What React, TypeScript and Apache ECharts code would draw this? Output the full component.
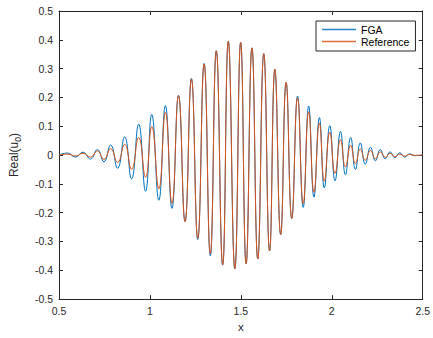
import React, { useEffect, useRef } from "react";
import * as echarts from "echarts";

// x positions of the extrema
const xs = [0.5, 0.546, 0.591, 0.632, 0.673, 0.711, 0.747, 0.784, 0.822, 0.861, 0.899, 0.938, 0.976, 1.010, 1.049, 1.085, 1.121, 1.157, 1.193, 1.228, 1.263, 1.298, 1.332, 1.365, 1.400, 1.431, 1.467, 1.499, 1.529, 1.561, 1.593, 1.626, 1.658, 1.687, 1.719, 1.749, 1.780, 1.812, 1.843, 1.873, 1.902, 1.932, 1.959, 1.989, 2.018, 2.048, 2.075, 2.104, 2.130, 2.157, 2.184, 2.213, 2.240, 2.267, 2.294, 2.321, 2.347, 2.374, 2.401, 2.428, 2.455, 2.5];

const fga = [0, 0.007, -0.007, 0.010, -0.014, 0.019, -0.023, 0.035, -0.046, 0.063, -0.083, 0.107, -0.126, 0.141, -0.157, 0.172, -0.185, 0.207, -0.231, 0.266, -0.293, 0.318, -0.350, 0.362, -0.382, 0.395, -0.395, 0.391, -0.378, 0.372, -0.361, 0.352, -0.333, 0.298, -0.276, 0.252, -0.220, 0.205, -0.182, 0.170, -0.146, 0.130, -0.114, 0.102, -0.089, 0.082, -0.068, 0.061, -0.050, 0.042, -0.032, 0.027, -0.020, 0.019, -0.013, 0.011, -0.009, 0.008, -0.007, 0.004, -0.002, 0];

const reference = [0, 0.003, -0.003, 0.006, -0.007, 0.014, -0.015, 0.022, -0.026, 0.037, -0.049, 0.061, -0.077, 0.099, -0.117, 0.148, -0.168, 0.207, -0.231, 0.264, -0.289, 0.316, -0.343, 0.362, -0.381, 0.395, -0.394, 0.391, -0.377, 0.372, -0.361, 0.352, -0.333, 0.298, -0.276, 0.252, -0.220, 0.199, -0.168, 0.150, -0.129, 0.110, -0.091, 0.079, -0.064, 0.053, -0.041, 0.034, -0.030, 0.021, -0.018, 0.016, -0.013, 0.011, -0.008, 0.006, -0.006, 0.003, -0.004, 0.002, -0.001, 0];

const seriesNames = ["FGA", "Reference"];
const seriesColors = ["#0072BD", "#D95319"];
const xRange = [0.5, 2.5];
const yRange = [-0.5, 0.5];

const FONT = "'Liberation Sans', Arial, Helvetica, sans-serif";
const AXIS = "#262626";
const LEGEND_ICON = "path://M0,0 L34,0 L34,1.3 L0,1.3 Z";

export default function App() {
  const ref = useRef<HTMLDivElement>(null);
  useEffect(() => {
    if (!ref.current) return;
    const chart = echarts.init(ref.current, undefined, { renderer: "svg" });
    const fmt = (v: number) => String(+v.toFixed(1));
    const axisCommon = {
      axisLine: { show: true, onZero: false, lineStyle: { color: AXIS, width: 1 } },
      axisTick: { show: true, inside: true, length: 4, lineStyle: { color: AXIS } },
      splitLine: { show: false },
    };
    chart.setOption({
      animation: false,
      backgroundColor: "#fff",
      textStyle: { fontFamily: FONT },
      grid: { left: 52, right: 9, top: 11, bottom: 34, containLabel: false },
      legend: {
        data: seriesNames.map((n, i) => ({
          name: n,
          icon: LEGEND_ICON,
          itemStyle: { color: seriesColors[i], borderWidth: 0, opacity: 0.85 },
          lineStyle: { color: seriesColors[i], width: 0 },
        })),
        orient: "vertical",
        left: 316,
        top: 21,
        padding: [3, 6, 4, 6],
        itemGap: 1,
        itemWidth: 34,
        itemHeight: 12,
        borderColor: AXIS,
        borderWidth: 1,
        backgroundColor: "#fff",
        textStyle: { fontSize: 10.5, color: "#000", fontFamily: FONT },
      },
      xAxis: [
        {
          type: "value",
          min: xRange[0],
          max: xRange[1],
          interval: 0.5,
          position: "bottom",
          name: "x",
          nameLocation: "middle",
          nameGap: 21,
          nameTextStyle: { fontSize: 11.5, color: AXIS, fontFamily: FONT },
          axisLabel: { fontSize: 10.5, color: AXIS, margin: 6, formatter: fmt, fontFamily: FONT },
          ...axisCommon,
        },
        {
          type: "value",
          min: xRange[0],
          max: xRange[1],
          interval: 0.5,
          position: "top",
          axisLabel: { show: false },
          ...axisCommon,
        },
      ],
      yAxis: [
        {
          type: "value",
          min: yRange[0],
          max: yRange[1],
          interval: 0.1,
          position: "left",
          name: "{a|Real(u}{b|0}{a|)}",
          nameLocation: "middle",
          nameRotate: 90,
          nameGap: 37,
          nameTextStyle: {
            color: AXIS,
            fontFamily: FONT,
            rich: {
              a: { fontSize: 12, color: AXIS, fontFamily: FONT },
              b: { fontSize: 8.5, color: AXIS, fontFamily: FONT, padding: [7, 0, 0, 0] },
            },
          },
          axisLabel: { fontSize: 10.5, color: AXIS, margin: 6, formatter: fmt, fontFamily: FONT },
          ...axisCommon,
        },
        {
          type: "value",
          min: yRange[0],
          max: yRange[1],
          interval: 0.1,
          position: "right",
          axisLabel: { show: false },
          ...axisCommon,
        },
      ],
      series: [
        {
          name: seriesNames[0],
          type: "line",
          data: xs.map((x, i) => [x, fga[i]]),
          symbol: "none",
          smooth: 0.5,
          lineStyle: { color: seriesColors[0], width: 1 },
          itemStyle: { color: seriesColors[0] },
          xAxisIndex: 0,
          yAxisIndex: 0,
        },
        {
          name: seriesNames[1],
          type: "line",
          data: xs.map((x, i) => [x, reference[i]]),
          symbol: "none",
          smooth: 0.5,
          lineStyle: { color: seriesColors[1], width: 1 },
          itemStyle: { color: seriesColors[1] },
          xAxisIndex: 0,
          yAxisIndex: 0,
        },
      ],
    });
    return () => chart.dispose();
  }, []);
  return (
    <div
      ref={ref}
      style={{ position: "fixed", left: 0, top: 0, width: 433, height: 338, background: "#fff" }}
    />
  );
}
